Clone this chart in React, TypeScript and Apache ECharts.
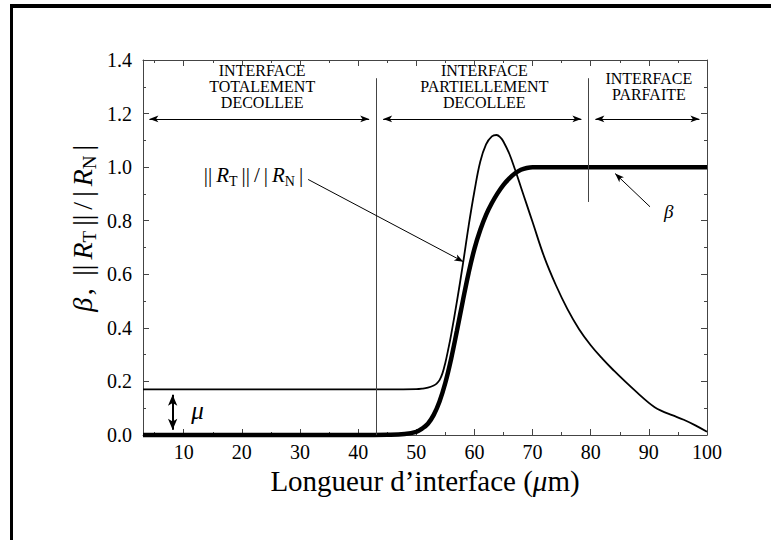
import React, { useEffect, useRef } from "react";
import * as echarts from "echarts";

const FONT = '"Liberation Serif", "Times New Roman", serif';

// ||R_T|| / |R_N| (thin curve)
const thinX = [3, 10, 20, 30, 40, 45, 50, 51, 52, 53, 53.5, 54, 54.5, 55, 55.5, 56, 57, 58, 59, 60, 61, 62, 63, 63.8, 64.5, 65, 66, 67, 68, 69, 70, 72, 74, 76, 78, 80, 82, 84, 86, 88, 90, 91, 92, 94, 96, 98, 100];
const thinY = [0.17, 0.17, 0.17, 0.17, 0.17, 0.17, 0.171, 0.173, 0.177, 0.185, 0.192, 0.205, 0.23, 0.27, 0.32, 0.375, 0.5, 0.635, 0.78, 0.91, 1.02, 1.085, 1.115, 1.12, 1.11, 1.095, 1.05, 0.99, 0.925, 0.86, 0.795, 0.665, 0.56, 0.47, 0.395, 0.335, 0.285, 0.24, 0.198, 0.158, 0.12, 0.104, 0.092, 0.074, 0.057, 0.036, 0.012];

// beta (thick curve)
const betaX = [3, 10, 20, 30, 40, 45, 48, 50, 51, 52, 53, 54, 55, 56, 57, 58, 59, 60, 61, 62, 63, 64, 65, 66, 67, 68, 69, 70, 72, 80, 90, 100];
const betaY = [0, 0, 0, 0, 0, 0.001, 0.004, 0.012, 0.024, 0.042, 0.075, 0.125, 0.195, 0.285, 0.39, 0.5, 0.605, 0.695, 0.765, 0.822, 0.866, 0.903, 0.934, 0.958, 0.977, 0.99, 0.997, 1, 1, 1, 1, 1];

const xMajorTicks = [10, 20, 30, 40, 50, 60, 70, 80, 90, 100];
const xMinorTicks = [5, 15, 25, 35, 45, 55, 65, 75, 85, 95];

// vertical separators: [x, yFrom, yTo]
const separators = [
  [43.1, 0, 1.332],
  [79.5, 0.87, 1.332],
];
// double arrows spanning regions: [xFrom, xTo, y]
const spanArrows = [
  [3.3, 42.7, 1.18],
  [43.5, 79.2, 1.18],
  [80.0, 99.5, 1.18],
];
const regionLabels = [
  { text: "INTERFACE\nTOTALEMENT\nDECOLLEE", x: 23.5, y: 1.3 },
  { text: "INTERFACE\nPARTIELLEMENT\nDECOLLEE", x: 61.7, y: 1.3 },
  { text: "INTERFACE\nPARFAITE", x: 90.0, y: 1.3 },
];
// pointer arrows: [xFrom, yFrom, xTip, yTip]
const pointerArrows = [
  [31.4, 0.954, 58.1, 0.647],
  [90.2, 0.852, 84.2, 0.976],
];
const muArrow = [8.1, 0.0, 0.17];

export default function App() {
  const ref = useRef<HTMLDivElement>(null);
  useEffect(() => {
    const el = ref.current!;
    const chart = echarts.init(el, null, { renderer: "svg" });
    const axisColor = "#444";

    const xAx = (position: string, ticks: number[], len: number, line: boolean, label: boolean, extra: any = {}) => ({
      type: "value",
      min: 3,
      max: 100,
      position,
      axisLine: { show: line, onZero: false, lineStyle: { color: axisColor, width: 1 } },
      axisTick: { show: true, inside: true, length: len, customValues: ticks, lineStyle: { color: axisColor, width: 1 } },
      axisLabel: label
        ? { show: true, customValues: ticks, fontFamily: FONT, fontSize: 20, color: "#000", margin: 7 }
        : { show: false },
      splitLine: { show: false },
      ...extra,
    });
    const yAx = (position: string, label: boolean) => ({
      type: "value",
      min: 0,
      max: 1.4,
      interval: 0.2,
      position,
      axisLine: { show: true, onZero: false, lineStyle: { color: axisColor, width: 1 } },
      axisTick: { show: true, inside: true, length: 6, lineStyle: { color: axisColor, width: 1 } },
      minorTick: { show: true, splitNumber: 2, length: 3, lineStyle: { color: axisColor, width: 1 } },
      axisLabel: label
        ? { show: true, fontFamily: FONT, fontSize: 20, color: "#000", margin: 11, formatter: (v: number) => v.toFixed(1) }
        : { show: false },
      splitLine: { show: false },
      minorSplitLine: { show: false },
    });

    const lineItem = (x1: number, y1: number, x2: number, y2: number, s1: string, s2: string, size: number[], color: string, width: number) => [
      { coord: [x1, y1], symbol: s1, symbolSize: size, lineStyle: { color, width, type: "solid" }, itemStyle: { color } },
      { coord: [x2, y2], symbol: s2, symbolSize: size, lineStyle: { color, width, type: "solid" }, itemStyle: { color } },
    ];

    const markData: any[] = [];
    separators.forEach(([x, a, b]) => markData.push(lineItem(x, a, x, b, "none", "none", [1, 1], axisColor, 1)));
    spanArrows.forEach(([a, b, y]) => markData.push(lineItem(a + 0.8, y, b - 0.8, y, "arrow", "arrow", [5, 9], "#000", 1)));
    pointerArrows.forEach(([x1, y1, x2, y2]) => markData.push(lineItem(x1, y1, x2, y2, "none", "arrow", [5, 9], "#000", 1)));
    markData.push(lineItem(muArrow[0], muArrow[2] - 0.02, muArrow[0], muArrow[1] + 0.02, "arrow", "arrow", [7, 11], "#000", 2));

    chart.setOption({
      animation: false,
      backgroundColor: "#fff",
      grid: { left: 143, top: 60, width: 564, height: 375, containLabel: false },
      xAxis: [
        xAx("bottom", xMajorTicks, 6, true, true, {
          name: "{a|Longueur d\u2019interface (}{m|\u03bc}{a|m)}",
          nameLocation: "middle",
          nameGap: 29,
          nameTextStyle: {
            color: "#000",
            fontFamily: FONT,
            fontSize: 29,
            rich: {
              a: { fontFamily: FONT, fontSize: 29, color: "#000" },
              m: { fontFamily: FONT, fontSize: 29, fontStyle: "italic", color: "#000" },
            },
          },
        }),
        xAx("bottom", xMinorTicks, 3, false, false),
        xAx("top", xMajorTicks, 6, true, false),
        xAx("top", xMinorTicks, 3, false, false),
      ],
      yAxis: [yAx("left", true), yAx("right", false)],
      series: [
        {
          type: "line",
          name: "ratio",
          xAxisIndex: 0,
          yAxisIndex: 0,
          data: thinX.map((x, i) => [x, thinY[i]]),
          showSymbol: false,
          smooth: 0.4,
          clip: false,
          lineStyle: { color: "#000", width: 1.8 },
          itemStyle: { color: "#000" },
          markLine: {
            silent: true,
            animation: false,
            label: { show: false },
            symbol: ["none", "none"],
            lineStyle: { color: "#000", width: 1, type: "solid" },
            data: markData,
          },
        },
        {
          type: "line",
          name: "beta",
          xAxisIndex: 0,
          yAxisIndex: 0,
          data: betaX.map((x, i) => [x, betaY[i]]),
          showSymbol: false,
          smooth: 0.4,
          clip: false,
          lineStyle: { color: "#000", width: 4.5 },
          itemStyle: { color: "#000" },
        },
      ],
    });

    const toPx = (x: number, y: number) => chart.convertToPixel({ seriesIndex: 0 }, [x, y]) as number[];

    const mathRich = (big: number, small: number, lh: number, gap: number) => ({
      g: { fontFamily: FONT, fontSize: big, fontStyle: "italic", fill: "#000", lineHeight: lh },
      n: { fontFamily: FONT, fontSize: big, fill: "#000", lineHeight: lh, padding: [0, gap, 0, gap] },
      c: { fontFamily: FONT, fontSize: big, fill: "#000", lineHeight: lh, padding: [0, gap * 4, 0, gap] },
      b: { fontFamily: FONT, fontSize: big, fill: "#000", lineHeight: lh, padding: [0, gap, 0, gap] },
      r: { fontFamily: FONT, fontSize: big, fontStyle: "italic", fill: "#000", lineHeight: lh, padding: [0, 0, 0, gap] },
      s: { fontFamily: FONT, fontSize: small, fill: "#000", lineHeight: small, verticalAlign: "bottom", padding: [0, gap, 0, 0] },
    });

    const graphics: any[] = [
      { type: "rect", shape: { x: 10, y: 4, width: 761, height: 4 }, style: { fill: "#000" }, silent: true },
      { type: "rect", shape: { x: 10, y: 4, width: 3, height: 536 }, style: { fill: "#000" }, silent: true },
      {
        type: "text",
        x: 82,
        y: 227,
        rotation: Math.PI / 2,
        silent: true,
        style: {
          text: "{g|\u03b2}{c|,}{b|||}{r|R}{s|T}{b|||}{n|/}{b||}{r|R}{s|N}{b||}",
          rich: mathRich(28, 19, 34, 2.5),
          fill: "#000",
          align: "center",
          verticalAlign: "middle",
        },
      },
    ];
    regionLabels.forEach((l) => {
      const [px, py] = toPx(l.x, l.y);
      graphics.push({
        type: "text",
        x: px,
        y: py,
        silent: true,
        style: {
          text: l.text,
          fontFamily: FONT,
          fontSize: 16,
          lineHeight: 16,
          fill: "#000",
          align: "center",
          verticalAlign: "middle",
        },
      });
    });
    {
      const [px, py] = toPx(22.0, 0.97);
      graphics.push({
        type: "text",
        x: px,
        y: py,
        silent: true,
        style: {
          text: "{b|||}{r|R}{s|T}{b|||}{n|/}{b||}{r|R}{s|N}{b||}",
          rich: mathRich(21, 14, 26, 2),
          fill: "#000",
          align: "center",
          verticalAlign: "middle",
        },
      });
    }
    {
      const [px, py] = toPx(93.4, 0.833);
      graphics.push({
        type: "text",
        x: px,
        y: py,
        silent: true,
        style: { text: "\u03b2", fontFamily: FONT, fontSize: 19, fontStyle: "italic", fill: "#000", align: "center", verticalAlign: "middle" },
      });
    }
    {
      const [px, py] = toPx(12.4, 0.09);
      graphics.push({
        type: "text",
        x: px,
        y: py,
        silent: true,
        style: { text: "\u03bc", fontFamily: FONT, fontSize: 25, fontStyle: "italic", fill: "#000", align: "center", verticalAlign: "middle" },
      });
    }
    chart.setOption({ graphic: graphics });

    return () => chart.dispose();
  }, []);
  return <div ref={ref} style={{ position: "fixed", left: 0, top: 0, width: 771, height: 540, background: "#fff" }} />;
}
